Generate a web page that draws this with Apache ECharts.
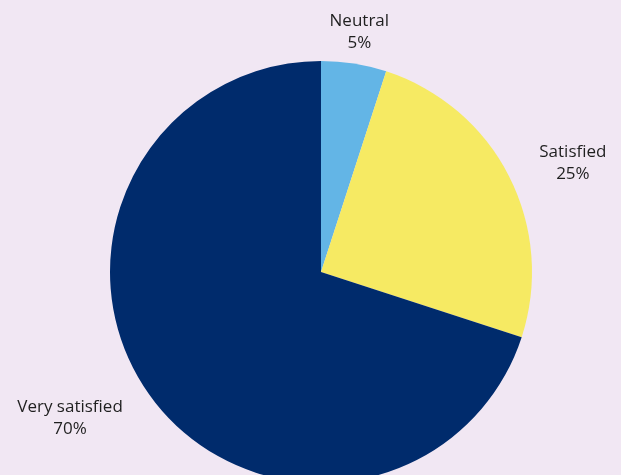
<!DOCTYPE html>
<html><head><meta charset="utf-8">
<script src="https://cdn.jsdelivr.net/npm/echarts@6/dist/echarts.min.js"></script>
<style>html,body{margin:0;padding:0;background:#F1E7F3;}#c{width:621px;height:475px;}</style>
</head><body><div id="c"></div>
<script>
const categories = ['Neutral', 'Satisfied', 'Very satisfied'];
const values = [5, 25, 70];
const colors = ['#63B5E6', '#F6EA63', '#002B6C'];

const center = [321, 272];
const radius = 211;
const labelRadius = 245;
const total = values.reduce((a, b) => a + b, 0);
const mids = [];
let acc = 0;
values.forEach(v => { mids.push(90 - (acc + v / 2) / total * 360); acc += v; });

const chart = echarts.init(document.getElementById('c'), null, {renderer: 'canvas'});
chart.setOption({
  backgroundColor: '#F1E7F3',
  animation: false,
  series: [{
    type: 'pie',
    center: center,
    radius: radius,
    startAngle: 90,
    clockwise: true,
    data: categories.map((n, i) => ({name: n, value: values[i], itemStyle: {color: colors[i]}})),
    itemStyle: {borderWidth: 0},
    label: {
      show: true,
      position: 'outside',
      formatter: '{b}\n{d}%',
      fontFamily: 'Open Sans',
      fontSize: 17,
      lineHeight: 22,
      color: '#1f1f1f',
      align: 'center',
      overflow: 'none'
    },
    labelLine: {show: false},
    labelLayout: function (p) {
      const a = mids[p.dataIndex] * Math.PI / 180;
      const c = Math.cos(a), s = Math.sin(a);
      const w = p.labelRect.width;
      let x = center[0] + labelRadius * c;
      if (Math.abs(c) >= 0.3) x += (c > 0 ? 1 : -1) * w / 2;
      return {x: x, y: center[1] - labelRadius * s + 2, align: 'center', verticalAlign: 'middle'};
    }
  }]
});
</script></body></html>
